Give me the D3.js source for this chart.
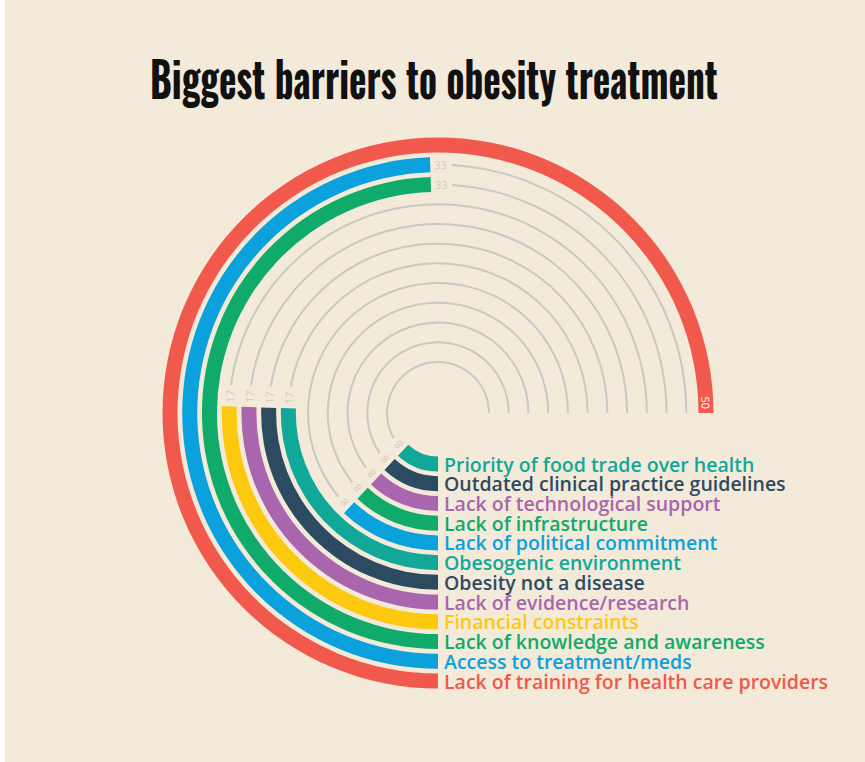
<!DOCTYPE html>
<html>
<head>
<meta charset="utf-8">
<script src="https://cdn.jsdelivr.net/npm/d3@7"></script>
<style>
  html, body { margin: 0; padding: 0; background: #ffffff; }
  svg { display: block; }
</style>
</head>
<body>
<svg id="chart" width="865" height="762"></svg>
<script>
// Barriers, listed from the outermost ring inward
const categories = [
  "Lack of training for health care providers",
  "Access to treatment/meds",
  "Lack of knowledge and awareness",
  "Financial constraints",
  "Lack of evidence/research",
  "Obesity not a disease",
  "Obesogenic environment",
  "Lack of political commitment",
  "Lack of infrastructure",
  "Lack of technological support",
  "Outdated clinical practice guidelines",
  "Priority of food trade over health"
];
const values = [50, 33, 33, 17, 17, 17, 17, 8, 8, 8, 8, 8];
const colors = [
  "#f0594b", "#0ba1dd", "#10aa6b", "#fdc90e", "#a966ae", "#2c4b61",
  "#11a899", "#0ba1dd", "#10aa6b", "#a966ae", "#2c4b61", "#11a899"
];
const maxValue = 50;
const title = "Biggest barriers to obesity treatment";

const svg = d3.select("#chart");
const W = 865, H = 762;

// page background with a thin light strip on the left edge
svg.append("rect").attr("x", 5).attr("y", 0).attr("width", W - 5).attr("height", H)
  .attr("fill", "#f3ead9");

// title, set in a narrow face and squeezed horizontally to its measure
const titleText = svg.append("text")
  .style("font-family", "Oswald, 'Liberation Sans Narrow', 'DejaVu Sans Condensed', sans-serif")
  .style("font-weight", 700)
  .style("font-size", "49px")
  .attr("fill", "#111")
  .text(title);
const titleWidth = 568;
const natural = titleText.node().getComputedTextLength();
titleText.attr("transform", `translate(150,99) scale(${titleWidth / natural},1)`);

const cx = 438, cy = 413;
const g = svg.append("g").attr("transform", `translate(${cx},${cy})`);

// rings: ring 0 is the outermost
const n = categories.length;
const radius = d3.scaleLinear().domain([n - 1, 0]).range([51, 268]);
const barWidth = 15;

// value -> angle, starting at 6 o'clock and sweeping clockwise three quarters
const angle = d3.scaleLinear().domain([0, maxValue]).range([Math.PI, 2.5 * Math.PI]);

const arc = d3.arc();
const deg = a => a * 180 / Math.PI;

const rows = categories.map((c, i) => ({
  name: c, value: values[i], color: colors[i], r: radius(i)
}));

// value labels at the end of each bar
const valueLabels = g.selectAll("text.val").data(rows).join("text")
  .attr("class", "val")
  .style("font-family", "'Open Sans', sans-serif")
  .style("font-size", "11px")
  .attr("dominant-baseline", "central")
  .attr("fill", d => d.value === maxValue ? "#ffffff" : "#cfcac0")
  .attr("text-anchor", d => d.value === maxValue ? "end" : "start")
  .attr("transform", d => {
    const a = angle(d.value) + (d.value === maxValue ? -4 : 4) / d.r;
    return `rotate(${deg(a)}) translate(0,${-d.r})`;
  })
  .text(d => d.value);

// thin grey tracks from just past each value label to the end of the scale
rows.forEach((d, i) => {
  const w = valueLabels.nodes()[i].getComputedTextLength();
  const start = angle(d.value) + (4 + w + 5) / d.r;
  if (start < angle(maxValue)) {
    g.insert("path", "text")
      .attr("d", arc({ innerRadius: d.r - 1, outerRadius: d.r + 1,
                       startAngle: start, endAngle: angle(maxValue) }))
      .attr("fill", "#c9c8c6");
  }
});

// bars
g.selectAll("path.bar").data(rows).join("path")
  .attr("class", "bar")
  .attr("fill", d => d.color)
  .attr("d", d => arc({
    innerRadius: d.r - barWidth / 2, outerRadius: d.r + barWidth / 2,
    startAngle: angle(0), endAngle: angle(d.value)
  }));

// bring value labels above the bars
valueLabels.raise();

// category names beside the start of each bar
g.selectAll("text.cat").data(rows).join("text")
  .attr("class", "cat")
  .attr("x", 6)
  .attr("y", d => d.r)
  .attr("dominant-baseline", "central")
  .style("font-family", "'Open Sans', sans-serif")
  .style("font-weight", 600)
  .style("font-size", "19.5px")
  .attr("fill", d => d.color)
  .text(d => d.name);
</script>
</body>
</html>
